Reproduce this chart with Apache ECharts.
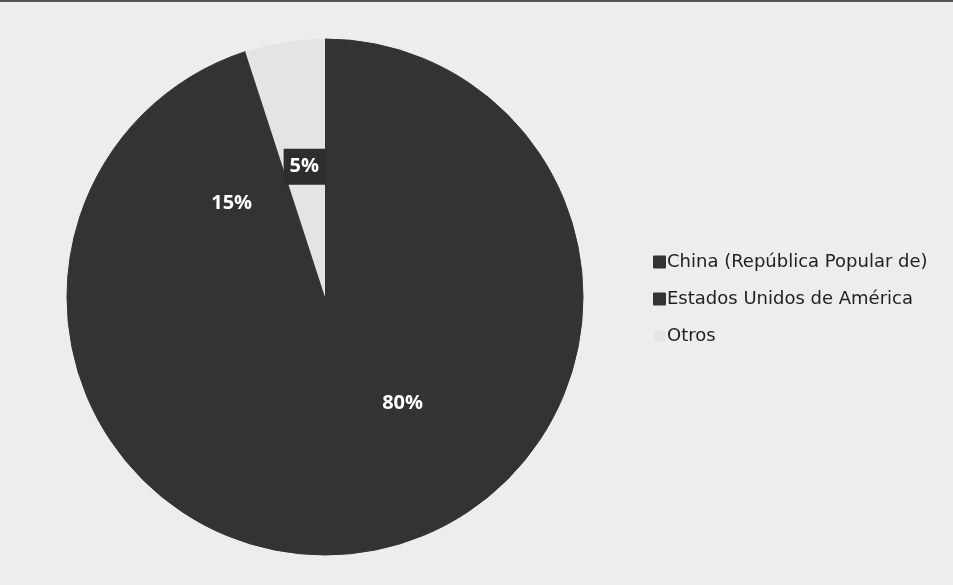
<!DOCTYPE html>
<html>
<head>
<meta charset="utf-8">
<script src="https://cdn.jsdelivr.net/npm/echarts@6/dist/echarts.min.js"></script>
<style>
  html, body { margin: 0; padding: 0; background: #ededed; }
  #chart { width: 953px; height: 585px; box-sizing: border-box; border-top: 2px solid #555; }
</style>
</head>
<body>
<div id="chart"></div>
<script>
// categorias y porcentajes
const categories = ['China (República Popular de)', 'Estados Unidos de América', 'Otros']
const shares = [80, 15, 5]
const sliceColors = ['#333333', '#333333', '#e4e4e4']

const chart = echarts.init(document.getElementById('chart'), null, { renderer: 'canvas' })

const pieData = categories.map((name, i) => ({
  name: name,
  value: shares[i],
  itemStyle: {
    color: sliceColors[i],
    // borde del mismo color para ocultar la junta entre las dos porciones oscuras
    borderColor: sliceColors[i],
    borderWidth: i < 2 ? 1 : 0
  }
}))
// la etiqueta 5% va sobre un recuadro oscuro
pieData[2].label = { backgroundColor: '#2e2e2e', padding: [9, 6, 7, 6] }

chart.setOption({
  backgroundColor: '#ededed',
  legend: {
    orient: 'vertical',
    left: 648,
    top: 246,
    icon: 'rect',
    itemWidth: 11,
    itemHeight: 11,
    itemGap: 19,
    textStyle: { color: '#222', fontSize: 18, fontFamily: 'DejaVu Sans', padding: [0, 0, 0, -3] },
    data: categories
  },
  series: [{
    type: 'pie',
    center: [325, 295],
    radius: [0, 258],
    startAngle: 90,
    clockwise: true,
    avoidLabelOverlap: false,
    label: {
      show: true,
      position: 'inside',
      formatter: '{c}%',
      color: '#fff',
      fontSize: 20,
      fontWeight: 'bold',
      fontFamily: 'Open Sans'
    },
    labelLine: { show: false },
    emphasis: { disabled: true },
    data: pieData
  }]
})
</script>
</body>
</html>
